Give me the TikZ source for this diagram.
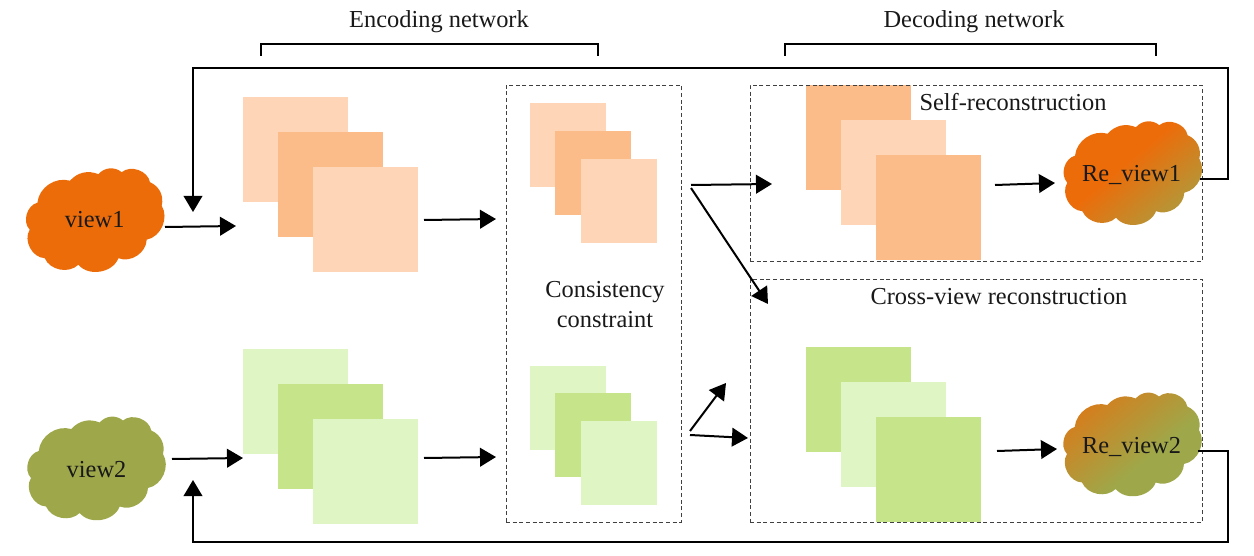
\documentclass[tikz,border=0pt]{standalone}
\usepackage{fontspec}
\setmainfont{Liberation Serif}
\usetikzlibrary{arrows.meta,calc}
\definecolor{vieworange}{HTML}{EC6C0A}
\definecolor{viewolive}{HTML}{9EA84A}
\definecolor{peachlight}{HTML}{FFD5B8}
\definecolor{peachdark}{HTML}{FBBC89}
\definecolor{greenlight}{HTML}{DFF5C3}
\definecolor{greendark}{HTML}{C6E58B}
\pgfdeclareverticalshading{rvone}{100bp}{color(0bp)=(viewolive); color(18bp)=(viewolive); color(55bp)=(vieworange); color(100bp)=(vieworange)}
\pgfdeclareverticalshading{rvtwo}{100bp}{color(0bp)=(viewolive); color(42bp)=(viewolive); color(86bp)=(vieworange); color(100bp)=(vieworange)}
\newcommand{\cloudpath}{(-65,10) to[bend right=60] (-50,38.5) to[bend right=55] (-16.3,45) to[bend right=60] (23.7,38.5) to[bend right=55] (52,20) to[bend right=55] (67,-14) to[bend right=40] (55.3,-37.5) to[bend right=60] (27,-47.5) to[bend right=45] (3.7,-45.5) to[bend right=35] (-24.7,-39) to[bend right=50] (-57.3,-17) to[bend right=60] cycle}
\tikzset{
  x=0.75pt,y=-0.75pt,
  bigbox/.style={inner sep=0pt,outer sep=0pt,minimum width=78.75pt,minimum height=78.75pt},
  smallbox/.style={inner sep=0pt,outer sep=0pt,minimum width=57pt,minimum height=63pt},
  plight/.style={fill=peachlight},
  pdark/.style={fill=peachdark},
  glight/.style={fill=greenlight},
  gdark/.style={fill=greendark},
  label/.style={font=\fontsize{18.3pt}{22pt}\selectfont,text=black!90,inner sep=0pt},
  cloudlabel/.style={label,minimum width=105pt,minimum height=78.75pt},
  arr/.style={draw=black,line width=1.5pt,-{Triangle[length=12pt,width=14pt]}},
  feed/.style={draw=black,line width=1.1pt,-{Triangle[length=12pt,width=14pt]}},
  bracket/.style={draw=black,line width=1pt},
  dashbox/.style={draw=black!75,line width=0.7pt,dash pattern=on 3pt off 2pt,inner sep=0pt,outer sep=0pt},
}
\begin{document}
\begin{tikzpicture}
\useasboundingbox (0,0) rectangle (1254,556);
% clouds
\begin{scope}[shift={(94.7,219.7)}]\fill[vieworange] \cloudpath;\end{scope}
\begin{scope}[shift={(96,468)}]\fill[viewolive] \cloudpath;\end{scope}
\begin{scope}[shift={(1132.3,172.7)}]\shade[shading=rvone,shading angle=40] \cloudpath;\end{scope}
\begin{scope}[shift={(1132,444)}]\shade[shading=rvtwo,shading angle=40] \cloudpath;\end{scope}
\node[cloudlabel] (v1) at (94.7,219.7) {view1};
\node[cloudlabel] (v2) at (96.5,469.5) {view2};
\node[cloudlabel] (r1) at (1131.5,174.5) {Re\_view1};
\node[cloudlabel] (r2) at (1131.5,446.5) {Re\_view2};
% encoding stacks
\node[bigbox,plight] (ea1) at (295.5,149.5) {};
\node[bigbox,pdark]  (ea2) at (330.5,184.5) {};
\node[bigbox,plight] (ea3) at (365.5,219.5) {};
\node[bigbox,glight] (eb1) at (295.5,401.5) {};
\node[bigbox,gdark]  (eb2) at (330.5,436.5) {};
\node[bigbox,glight] (eb3) at (365.5,471.5) {};
% consistency stacks
\node[smallbox,plight] (ca1) at (568,145) {};
\node[smallbox,pdark]  (ca2) at (593,173) {};
\node[smallbox,plight] (ca3) at (619,201) {};
\node[smallbox,glight] (cb1) at (568,407.5) {};
\node[smallbox,gdark]  (cb2) at (593,435) {};
\node[smallbox,glight] (cb3) at (619,463) {};
% decoding stacks
\node[bigbox,pdark]  (da1) at (858.5,137.5) {};
\node[bigbox,plight] (da2) at (893.5,172.5) {};
\node[bigbox,pdark]  (da3) at (928.5,207.5) {};
\node[bigbox,gdark]  (db1) at (858.5,399.5) {};
\node[bigbox,glight] (db2) at (893.5,434.5) {};
\node[bigbox,gdark]  (db3) at (928.5,469.5) {};
% dashed frames
\node[dashbox,minimum width=131.25pt,minimum height=327.75pt] (cons) at (593.5,303.5) {};
\node[dashbox,minimum width=339pt,minimum height=132pt] (self) at (976,173) {};
\node[dashbox,minimum width=339pt,minimum height=182.25pt] (cross) at (976,400.5) {};
% labels
\node[label] (enc) at (439,22) {Encoding network};
\node[label] (dec) at (974,22) {Decoding network};
\node[label] (selfl) at (1013,102.5) {Self-reconstruction};
\node[label] (crossl) at (999,297) {Cross-view reconstruction};
\node[label] (cc1) at (605,292) {Consistency};
\node[label] (cc2) at (605,320) {constraint};
% free ends
\coordinate (a1s) at (165,227);  \coordinate (a1e) at (236,226);
\coordinate (a2s) at (172,459);  \coordinate (a2e) at (243,458);
\coordinate (a3s) at (424,220);  \coordinate (a3e) at (496,219);
\coordinate (a4s) at (424,458);  \coordinate (a4e) at (496,457);
\coordinate (a5s) at (691,185);  \coordinate (a5e) at (772,184);
\coordinate (a6s) at (691,188);  \coordinate (a6e) at (768,304);
\coordinate (a7s) at (690,431);  \coordinate (a7e) at (726,383);
\coordinate (a8s) at (690,435);  \coordinate (a8e) at (748,438);
\coordinate (a9s) at (995,185);  \coordinate (a9e) at (1055,183);
\coordinate (a10s) at (997,451); \coordinate (a10e) at (1057,449);
\coordinate (f1s) at (1200,179); \coordinate (f1a) at (1228,179); \coordinate (f1b) at (1228,68); \coordinate (f1c) at (193,68); \coordinate (f1e) at (193,212);
\coordinate (f2s) at (1198,451); \coordinate (f2a) at (1228,451); \coordinate (f2b) at (1228,542); \coordinate (f2c) at (193,542); \coordinate (f2e) at (193,480);
\coordinate (b1a) at (261,56); \coordinate (b1b) at (261,44); \coordinate (b1c) at (598,44); \coordinate (b1d) at (598,56);
\coordinate (b2a) at (785,56); \coordinate (b2b) at (785,44); \coordinate (b2c) at (1156,44); \coordinate (b2d) at (1156,56);
% connectors
\foreach \n in {1,...,10} {\draw[arr] (a\n s) -- (a\n e);}
\draw[feed] (f1s) -- (f1a) -- (f1b) -- (f1c) -- (f1e);
\draw[feed] (f2s) -- (f2a) -- (f2b) -- (f2c) -- (f2e);
\draw[bracket] (b1a) -- (b1b) -- (b1c) -- (b1d);
\draw[bracket] (b2a) -- (b2b) -- (b2c) -- (b2d);
\end{tikzpicture}
\end{document}
